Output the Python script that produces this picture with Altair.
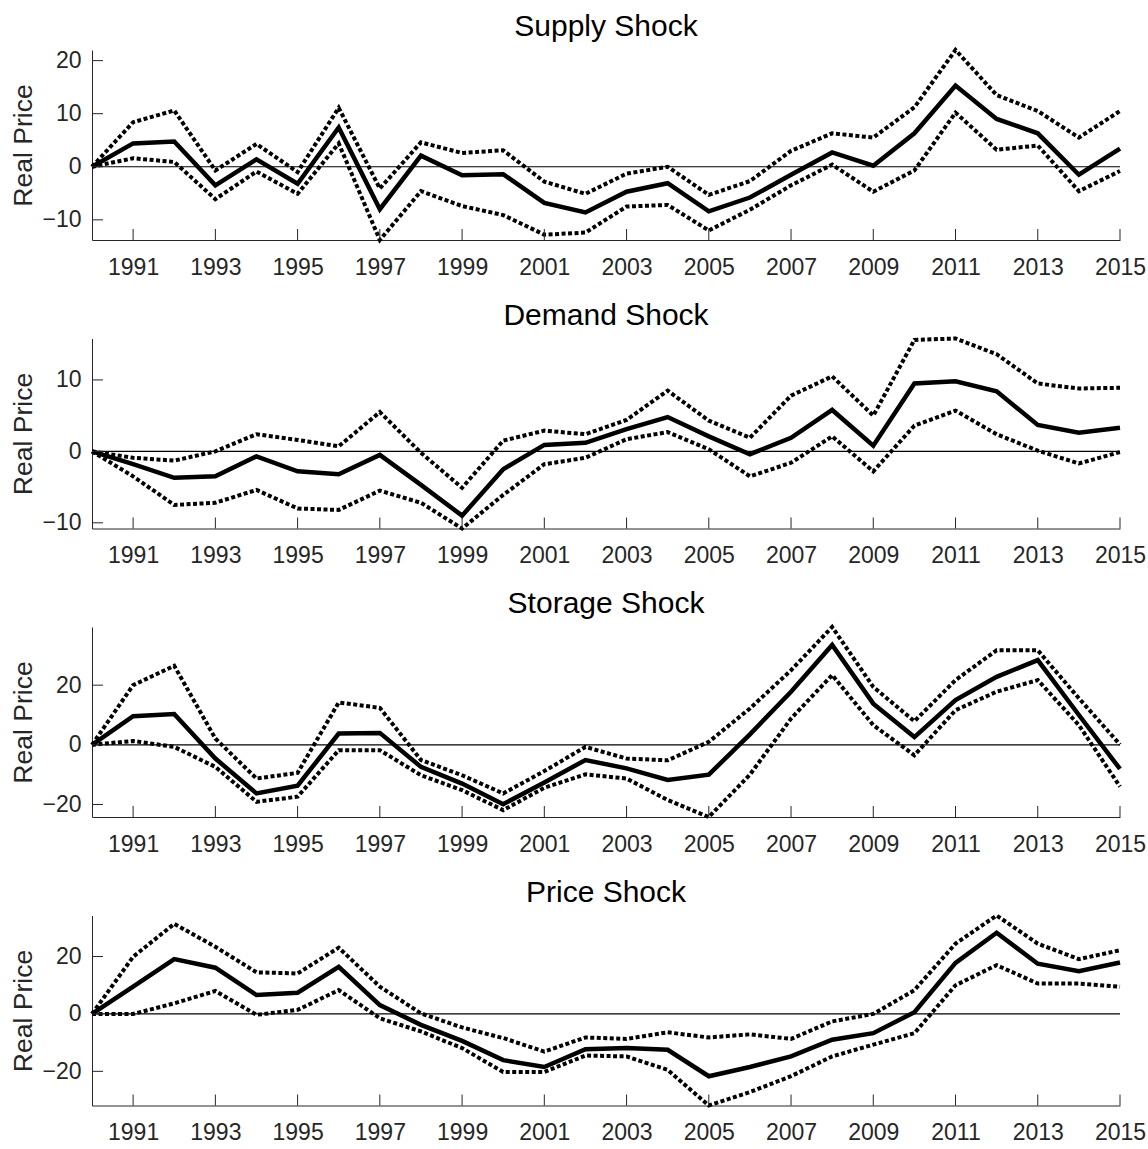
import altair as alt
import pandas as pd

# Impulse responses of the real price, 1990-2015: median path with lower/upper bands
years = list(range(1990, 2016))
x_tick_years = list(range(1991, 2016, 2))

panel_titles = ["Supply Shock", "Demand Shock", "Storage Shock", "Price Shock"]

supply_mid = [0, 4.4, 4.75, -3.5, 1.4, -3.2, 7.4, -8.0, 2.1, -1.6, -1.4, -6.8, -8.6,
              -4.7, -3.1, -8.4, -5.8, -1.5, 2.7, 0.2, 6.3, 15.3, 9.0, 6.3, -1.5, 3.4]
supply_hi = [0, 8.4, 10.6, -0.7, 4.3, -1.0, 11.1, -4.1, 4.6, 2.6, 3.1, -2.8, -5.1,
             -1.3, 0.0, -5.3, -2.7, 3.0, 6.3, 5.5, 11.2, 22.0, 13.5, 10.5, 5.5, 10.5]
supply_lo = [0, 1.6, 0.9, -6.1, -0.9, -5.1, 4.4, -13.8, -4.6, -7.4, -9.1, -12.8, -12.4,
             -7.5, -7.2, -12.0, -8.1, -3.5, 0.4, -4.7, -0.7, 10.2, 3.2, 4.0, -4.6, -0.8]

demand_mid = [0, -1.8, -3.7, -3.5, -0.7, -2.8, -3.2, -0.5, -4.7, -9.0, -2.5, 0.9, 1.2,
              3.1, 4.8, 2.1, -0.4, 1.9, 5.8, 0.8, 9.5, 9.8, 8.4, 3.7, 2.6, 3.3]
demand_hi = [0, -0.9, -1.3, 0.0, 2.4, 1.6, 0.7, 5.5, -0.2, -5.1, 1.5, 2.9, 2.4,
             4.4, 8.5, 4.3, 1.9, 7.8, 10.5, 5.0, 15.6, 15.8, 13.6, 9.5, 8.8, 8.9]
demand_lo = [0, -3.5, -7.5, -7.2, -5.4, -8.0, -8.2, -5.5, -7.2, -10.8, -6.1, -1.8, -0.9,
             1.7, 2.7, 0.3, -3.5, -1.6, 2.1, -2.8, 3.6, 5.7, 2.4, 0.1, -1.7, -0.1]

storage_mid = [0, 9.6, 10.3, -4.6, -16.3, -13.7, 3.8, 4.0, -7.4, -13.0, -19.9, -12.6, -5.1,
               -7.9, -11.8, -10.0, 3.5, 17.8, 33.5, 13.8, 2.6, 15.0, 22.8, 28.4, 10.0, -8.1]
storage_hi = [0, 20.0, 26.5, 2.1, -11.3, -9.4, 14.2, 12.4, -5.1, -10.2, -16.3, -8.8, -0.7,
              -4.6, -5.2, 1.0, 12.2, 25.0, 39.5, 19.4, 7.9, 21.7, 31.7, 31.7, 15.6, 0.1]
storage_lo = [0, 1.3, -0.7, -7.4, -19.1, -17.4, -1.8, -1.8, -10.2, -15.2, -21.9, -14.4, -9.9,
              -11.3, -18.5, -24.2, -10.0, 8.8, 23.4, 6.6, -3.5, 11.6, 17.8, 21.7, 6.6, -14.0]

price_mid = [0, 9.5, 19.1, 16.1, 6.6, 7.4, 16.4, 3.1, -3.8, -9.4, -16.1, -18.5, -12.3,
             -11.9, -12.5, -21.7, -18.5, -14.8, -9.0, -6.7, 0.6, 17.8, 28.3, 17.5, 14.9, 17.9]
price_hi = [0, 19.9, 31.4, 23.4, 14.5, 14.1, 23.1, 9.5, 0.2, -4.7, -8.4, -13.1, -8.2,
            -8.7, -6.4, -8.2, -7.1, -8.7, -2.6, 0.0, 8.3, 24.5, 34.3, 24.5, 19.1, 22.2]
price_lo = [0, 0.0, 3.7, 8.0, -0.3, 1.4, 8.3, -1.5, -6.1, -11.9, -20.2, -20.2, -14.5,
            -14.8, -19.5, -31.9, -27.2, -21.7, -14.8, -10.7, -6.7, 10.0, 17.0, 10.6, 10.6, 9.5]

y_tick_values = [[-10, 0, 10, 20], [-10, 0, 10], [-20, 0, 20], [-20, 0, 20]]

series = [
    (supply_mid, supply_lo, supply_hi),
    (demand_mid, demand_lo, demand_hi),
    (storage_mid, storage_lo, storage_hi),
    (price_mid, price_lo, price_hi),
]

W, H = 1028, 190
TICK = 11
FONT = "Liberation Sans"
AXIS_GRAY = "#262626"


def make_panel(title, mid, lo, hi, yticks):
    n = len(years)
    df = pd.DataFrame({
        "year": years * 3,
        "value": lo + mid + hi,
        "series": ["lower"] * n + ["median"] * n + ["upper"] * n,
    })
    # tight limits, as in "axis tight"
    y_dom = [min(lo), max(hi)]

    x_enc = alt.X(
        "year:Q",
        scale=alt.Scale(domain=[years[0], years[-1]], nice=False, zero=False),
        axis=alt.Axis(values=x_tick_years, format="d", title=None, grid=False,
                      ticks=False, tickSize=0, labelPadding=16, labelFlush=False,
                      labelOverlap=False, labelFontSize=23, labelFont=FONT,
                      labelColor=AXIS_GRAY, domainColor=AXIS_GRAY, domainWidth=1),
    )
    y_enc = alt.Y(
        "value:Q",
        scale=alt.Scale(domain=y_dom, nice=False, zero=False),
        axis=alt.Axis(values=yticks, title="Real Price", grid=False,
                      ticks=False, tickSize=0, labelPadding=11, labelOverlap=False,
                      labelFontSize=23, labelFont=FONT, labelColor=AXIS_GRAY,
                      titleFontSize=26.5, titleFont=FONT, titleFontWeight="normal",
                      titleColor=AXIS_GRAY, titlePadding=4.5,
                      domainColor=AXIS_GRAY, domainWidth=1),
    )

    base = alt.Chart(df)
    bands = base.transform_filter(alt.datum.series != "median").mark_line(
        color="black", strokeWidth=4, strokeDash=[4, 2.5], strokeCap="butt"
    ).encode(x=x_enc, y=y_enc, detail="series:N")
    median = base.transform_filter(alt.datum.series == "median").mark_line(
        color="black", strokeWidth=4.5
    ).encode(x=x_enc, y=y_enc)

    zero_line = alt.Chart(pd.DataFrame({"value": [0]})).mark_rule(
        color="black", strokeWidth=1.2
    ).encode(y=y_enc, x=alt.value(0), x2=alt.value(W))

    # inward tick marks on both axes
    x_ticks = alt.Chart(pd.DataFrame({"year": x_tick_years})).mark_rule(
        color=AXIS_GRAY, strokeWidth=1
    ).encode(x=x_enc, y=alt.value(H), y2=alt.value(H - TICK))
    y_ticks = alt.Chart(pd.DataFrame({"value": yticks})).mark_rule(
        color=AXIS_GRAY, strokeWidth=1
    ).encode(y=y_enc, x=alt.value(0), x2=alt.value(TICK))

    return alt.layer(bands, median, zero_line, x_ticks, y_ticks).properties(
        width=W, height=H,
        title=alt.TitleParams(text=title, fontSize=30, font=FONT, fontWeight="normal",
                              color="black", anchor="middle", frame="group",
                              offset=0),
    )


panels = [make_panel(t, m, l, h, yt)
          for t, (m, l, h), yt in zip(panel_titles, series, y_tick_values)]

chart = alt.vconcat(*panels, spacing=21.5).properties(
    padding={"left": 10, "top": 12, "right": 0, "bottom": 0},
    background="white",
).configure_view(stroke=None)

chart.save("out.html", embed_options={"renderer": "svg", "actions": False})
